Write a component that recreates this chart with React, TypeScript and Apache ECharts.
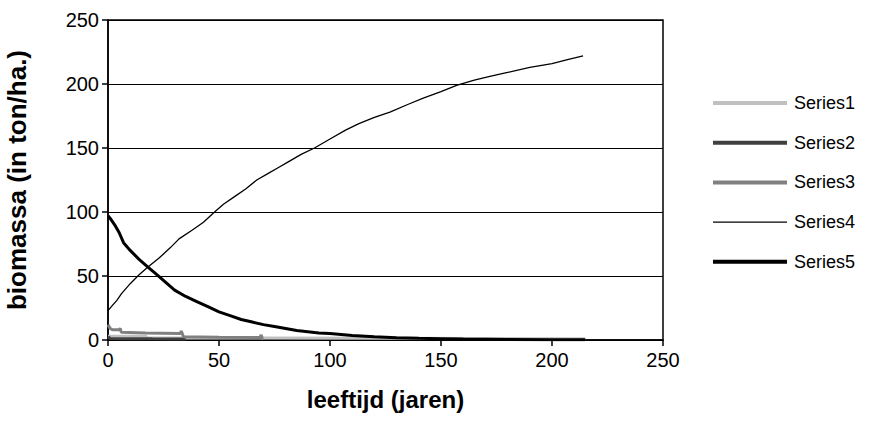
import React, { useEffect, useRef } from "react";
import * as echarts from "echarts";

const seriesNames = ["Series1", "Series2", "Series3", "Series4", "Series5"];
const xTicks = [0, 50, 100, 150, 200, 250];
const yTicks = [0, 50, 100, 150, 200, 250];

const series1: [number, number][] = [
  [0, 3], [8, 3], [17, 3], [17.5, 1.6], [69, 1.5], [122, 1.3], [170, 1.1], [215, 1],
];
const series2: [number, number][] = [
  [0, 2.5], [1, 1.2], [8, 1], [20, 0.9], [35, 0.8],
];
const series3: [number, number][] = [
  [0, 12], [1, 9], [2, 8], [5, 8], [5.5, 9], [6, 6], [17, 5.5], [32.5, 5], [33, 7],
  [34, 2.5], [50, 2.2], [68.5, 2], [69, 4], [69.5, 1.2], [70, 1],
];
const series4: [number, number][] = [
  [0, 23], [2, 27], [4, 31], [6, 36], [10, 44], [14, 51], [18, 57], [23, 64],
  [28, 72], [32, 79], [38, 86], [43, 92], [48, 100], [52, 106], [57, 112],
  [62, 118], [67, 125], [72, 130], [77, 135], [81, 139], [87, 145], [93, 150],
  [100, 157], [107, 164], [113, 169], [120, 174], [127, 178], [135, 184],
  [142, 189], [150, 194], [157, 199], [165, 203], [172, 206], [180, 209],
  [190, 213], [200, 216], [207, 219], [214, 222],
];
const series5: [number, number][] = [
  [0, 97], [1, 95], [3, 90], [5, 84], [7, 76], [10, 70], [14, 63], [18, 57],
  [22, 51], [26, 45], [30, 39], [35, 34], [40, 30], [45, 26], [50, 22], [55, 19],
  [60, 16], [65, 14], [70, 12], [75, 10.5], [80, 9], [85, 7.5], [90, 6.5],
  [95, 5.5], [100, 5], [110, 3.5], [120, 2.5], [130, 1.8], [140, 1.3], [150, 1],
  [160, 0.7], [180, 0.4], [200, 0.2], [215, 0.1],
];

const seriesData = [series1, series2, series3, series4, series5];
const colors = ["#c0c0c0", "#404040", "#808080", "#000000", "#000000"];
const widths = [3, 3, 3, 1.3, 3];
const legendWidths = [4, 4, 4, 1.3, 4];

const FONT = "Arial, 'Liberation Sans', sans-serif";

export default function App() {
  const ref = useRef<HTMLDivElement>(null);
  useEffect(() => {
    if (!ref.current) return;
    const chart = echarts.init(ref.current, undefined, { renderer: "svg" });
    chart.setOption({
      animation: false,
      backgroundColor: "#ffffff",
      textStyle: { fontFamily: FONT, color: "#000" },
      grid: {
        left: 108,
        top: 20,
        width: 555,
        height: 320,
        show: true,
        borderColor: "#000",
        borderWidth: 1.5,
        backgroundColor: "transparent",
        containLabel: false,
        outerBoundsMode: "none",
      },
      legend: {
        orient: "vertical",
        left: 706,
        top: 89,
        itemWidth: 74,
        itemHeight: 20,
        itemGap: 21.7,
        textStyle: { fontFamily: FONT, fontSize: 18, color: "#000", padding: [0, 0, 0, 2] },
        data: seriesNames.map((n, i) => ({
          name: n,
          lineStyle: { color: colors[i], width: legendWidths[i] },
          itemStyle: { opacity: 0, borderWidth: 0 },
        })),
      },
      xAxis: {
        type: "value",
        min: xTicks[0],
        max: xTicks[xTicks.length - 1],
        interval: 50,
        name: "leeftijd (jaren)",
        nameLocation: "middle",
        nameGap: 47,
        nameTextStyle: { fontFamily: FONT, fontSize: 24, fontWeight: "bold", color: "#000" },
        axisLine: { show: true, onZero: false, lineStyle: { color: "#000", width: 1.5 } },
        axisTick: { show: true, inside: false, length: 6, lineStyle: { color: "#000", width: 1.5 } },
        axisLabel: { fontFamily: FONT, fontSize: 20, color: "#000", margin: 10 },
        splitLine: { show: false },
      },
      yAxis: {
        type: "value",
        min: yTicks[0],
        max: yTicks[yTicks.length - 1],
        interval: 50,
        name: "biomassa (in ton/ha.)",
        nameLocation: "middle",
        nameGap: 78,
        nameTextStyle: { fontFamily: FONT, fontSize: 26, fontWeight: "bold", color: "#000" },
        axisLine: { show: true, lineStyle: { color: "#000", width: 1.5 } },
        axisTick: { show: true, inside: false, length: 6, lineStyle: { color: "#000", width: 1.5 } },
        axisLabel: { fontFamily: FONT, fontSize: 20, color: "#000", margin: 9 },
        splitLine: { show: true, lineStyle: { color: "#000", width: 1 } },
      },
      series: seriesNames.map((n, i) => ({
        name: n,
        type: "line",
        data: seriesData[i],
        symbol: "none",
        showSymbol: false,
        lineStyle: { color: colors[i], width: widths[i] },
        itemStyle: { color: colors[i] },
        z: 2 + i,
      })),
    });
    return () => chart.dispose();
  }, []);
  return (
    <div
      ref={ref}
      style={{ position: "absolute", left: 0, top: 0, width: 882, height: 439 }}
    />
  );
}
